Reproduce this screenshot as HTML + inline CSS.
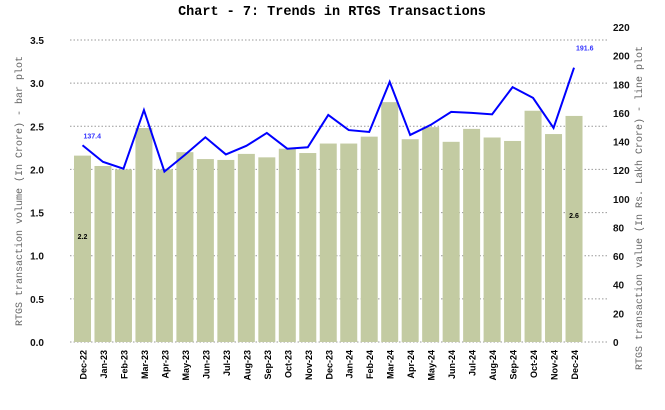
<!DOCTYPE html>
<html><head><meta charset="utf-8"><style>
body{margin:0;background:#fff}
svg{display:block;font-family:"Liberation Sans",sans-serif}
.mono{font-family:"Liberation Mono","DejaVu Sans Mono",monospace}
</style></head><body>
<svg id="chart" width="665" height="410">
<text class="mono" x="332" y="15" text-anchor="middle" font-size="13.5" font-weight="bold">Chart - 7: Trends in RTGS Transactions</text>
<text class="mono" transform="translate(22,191) rotate(-90)" text-anchor="middle" font-size="10" fill="#666">RTGS transaction volume (In Crore) - bar plot</text>
<text class="mono" transform="translate(642,208) rotate(-90)" text-anchor="middle" font-size="10" fill="#666">RTGS transaction value (In Rs. Lakh Crore) - line plot</text>
<g id="grid"></g><g id="bars"></g><g id="line"></g><g id="axes"></g>
</svg>
<script>
const categories=["Dec-22","Jan-23","Feb-23","Mar-23","Apr-23","May-23","Jun-23","Jul-23","Aug-23","Sep-23","Oct-23","Nov-23","Dec-23","Jan-24","Feb-24","Mar-24","Apr-24","May-24","Jun-24","Jul-24","Aug-24","Sep-24","Oct-24","Nov-24","Dec-24"];
const volumes=[2.16,2.04,2.0,2.48,2.0,2.2,2.12,2.11,2.18,2.14,2.24,2.19,2.3,2.3,2.38,2.78,2.35,2.49,2.32,2.47,2.37,2.33,2.68,2.41,2.62];
const values=[137.4,125.8,121,162,119,130.7,143,131,137,146,135,136,158.6,148,146.7,181.7,144.6,151.6,160.7,160,159,178,170.5,149.5,191.6];
const leftTicks=[0,0.5,1,1.5,2,2.5,3,3.5];
const rightTicks=[0,20,40,60,80,100,120,140,160,180,200,220];
const NS="http://www.w3.org/2000/svg";
const x0=72,step=20.48,yBase=342;
const xC=i=>x0+10.5+i*step;
const yL=v=>yBase-v*(302/3.5);
const yR=v=>yBase-v*(315/220);
function mk(t,a,p,txt){const e=document.createElementNS(NS,t);for(const k in a)e.setAttribute(k,a[k]);if(txt!==undefined)e.textContent=txt;p.appendChild(e);return e;}
const G=document.getElementById('grid'),B=document.getElementById('bars'),L=document.getElementById('line'),A=document.getElementById('axes');
leftTicks.forEach(t=>{
 const g=mk('line',{x1:x0-2,x2:607,y1:yL(t),y2:yL(t),stroke:'#999','stroke-dasharray':'1.5,2','stroke-width':1},G);
 
 
 const l=mk('text',{x:44,y:yL(t)+4,'text-anchor':'end','font-size':10,'font-weight':'bold',fill:'#111'},A,t.toFixed(1));
 
 
});
rightTicks.forEach(t=>{
 const l=mk('text',{x:613,y:yR(t)+4,'font-size':10,'font-weight':'bold',fill:'#111'},A,String(t));
 
 
});
volumes.forEach((v,i)=>{
 const r=mk('rect',{x:xC(i)-8.5,y:yL(v),width:17,height:yBase-yL(v),fill:'#c3cba2'},B);
 
 
 const c=mk('text',{transform:`translate(${xC(i)+4},${yBase+8}) rotate(-90)`,'text-anchor':'end','font-size':9,'font-weight':'bold'},A,categories[i]);
 
 
});
const pl=mk('polyline',{points:values.map((v,i)=>xC(i)+','+yR(v)).join(' '),fill:'none',stroke:'#0000ff','stroke-width':2},L);


const n=values.length-1;
const a1=mk('text',{x:xC(0)+1,y:yR(values[0])-7,'font-size':7,'font-weight':'bold',fill:'#3333ff'},L,values[0].toFixed(1));


const a2=mk('text',{x:xC(n)+2,y:yR(values[n])-17,'font-size':7,'font-weight':'bold',fill:'#3333ff'},L,values[n].toFixed(1));


const b1=mk('text',{x:xC(0),y:239,'text-anchor':'middle','font-size':7,'font-weight':'bold'},B,volumes[0].toFixed(1));


const b2=mk('text',{x:xC(n),y:218,'text-anchor':'middle','font-size':7,'font-weight':'bold'},B,volumes[n].toFixed(1));


</script>
</body></html>
